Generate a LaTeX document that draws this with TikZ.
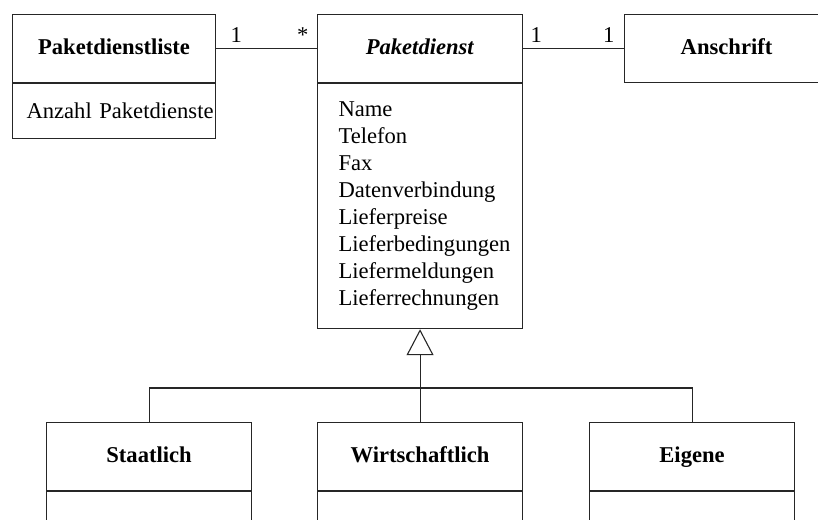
\documentclass[tikz,border=0pt]{standalone}
\usepackage{fontspec}
\setmainfont{Liberation Serif}
\usetikzlibrary{arrows.meta,positioning}

\begin{document}
\begin{tikzpicture}[x=1pt,y=-1pt,font=\fontsize{22.6}{27}\selectfont]
  \tikzset{classhead/.style = {draw=black!85, line width=1.1pt, minimum width=205, minimum height=68, inner sep=0pt, text height=16, text depth=4, anchor=north west, font=\fontsize{22.6}{27}\selectfont\bfseries}}
  \tikzset{classbody/.style = {draw=black!85, line width=1.1pt, align=left, inner ysep=0pt, below=0pt of #1}}
  \tikzset{emptybody/.style = {draw=black!85, line width=1.1pt, minimum width=205, minimum height=60, below=0pt of #1}}
  \tikzset{assoc/.style = {draw=black!85, line width=1.1pt}}
  \tikzset{mult/.style = {above=4pt, inner sep=1pt}}
  \tikzset{inherit/.style = {draw=black!85, line width=1.1pt, -{Triangle[open, length=26, width=27, line width=1.1pt]}}}

  \useasboundingbox (0,0) rectangle (818,519);

  % classes
  \node[classhead, minimum width=203] (liste) at (12,14) {Paketdienstliste};
  \node[classbody=liste, minimum height=55, text width=175, inner xsep=14] (listeattr) {\mbox{Anzahl Paketdienste}};

  \node[classhead] (dienst) at (317,14) {\textit{Paketdienst}};
  \node[classbody=dienst, minimum height=245, text width=163, inner xsep=21] (dienstattr)
    {Name\\Telefon\\Fax\\Datenverbindung\\Lieferpreise\\Lieferbedingungen\\Liefermeldungen\\Lieferrechnungen};

  \node[classhead, minimum width=204] (anschrift) at (624,14) {Anschrift};

  % subclasses
  \node[classhead] (staat) at (46,422) {Staatlich};
  \node[emptybody=staat] (staatattr) {};
  \node[classhead] (wirt) at (317,422) {Wirtschaftlich};
  \node[emptybody=wirt] (wirtattr) {};
  \node[classhead] (eigen) at (589,422) {Eigene};
  \node[emptybody=eigen] (eigenattr) {};

  % associations
  \draw[assoc] (liste) -- (dienst) node[mult, pos=0.2] {1} node[mult, pos=0.86] {*};
  \draw[assoc] (dienst) -- (anschrift) node[mult, pos=0.13] {1} node[mult, pos=0.85] {1};

  % generalization
  \coordinate (joint) at (419.5,388);
  \draw[assoc] (staat.north) |- (joint) -| (eigen.north);
  \draw[inherit] (wirt.north) -- (dienstattr.south);

\end{tikzpicture}
\end{document}
